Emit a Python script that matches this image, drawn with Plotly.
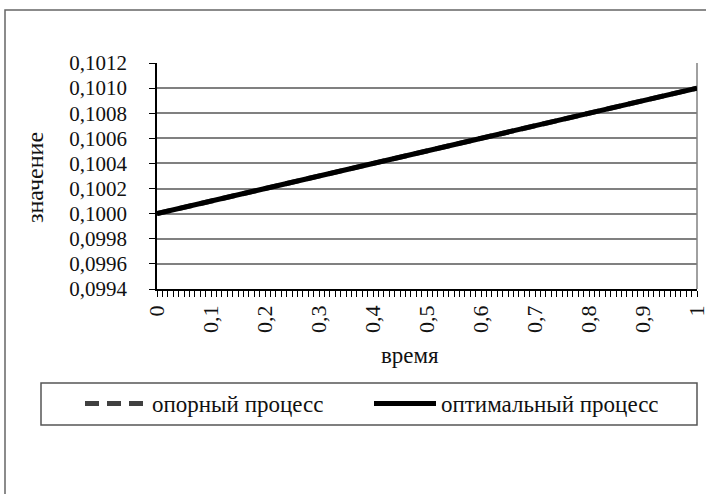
import plotly.graph_objects as go

# Data
time = [0.0, 0.1, 0.2, 0.3, 0.4, 0.5, 0.6, 0.7, 0.8, 0.9, 1.0]
reference_process = [0.1000, 0.1001, 0.1002, 0.1003, 0.1004, 0.1005,
                     0.1006, 0.1007, 0.1008, 0.1009, 0.1010]
optimal_process = [0.1000, 0.1001, 0.1002, 0.1003, 0.1004, 0.1005,
                   0.1006, 0.1007, 0.1008, 0.1009, 0.1010]
x_ticks = [0.0, 0.1, 0.2, 0.3, 0.4, 0.5, 0.6, 0.7, 0.8, 0.9, 1.0]
x_tick_labels = ["0", "0,1", "0,2", "0,3", "0,4", "0,5", "0,6", "0,7", "0,8", "0,9", "1"]
series_names = ["опорный процесс", "оптимальный процесс"]
y_title = "значение"
x_title = "время"

FONT = "'Liberation Serif', 'Times New Roman', 'DejaVu Serif', serif"

fig = go.Figure()
fig.add_trace(go.Scatter(x=time, y=reference_process, mode="lines", name=series_names[0],
                         line=dict(color="#404040", width=5, dash="14px,8px")))
fig.add_trace(go.Scatter(x=time, y=optimal_process, mode="lines", name=series_names[1],
                         line=dict(color="#000000", width=5)))

W, H = 706, 494
L, R, T, B = 157, 9, 63, 205
pw, ph = W - L - R, H - T - B

def px(x):
    return (x - L) / pw

def py(y):
    return (H - B - y) / ph

fig.update_layout(
    template="none",
    width=W, height=H,
    margin=dict(l=L, r=R, t=T, b=B, autoexpand=False),
    paper_bgcolor="white", plot_bgcolor="white",
    separators=", ",
    font=dict(family=FONT, size=21, color="#111111"),
    showlegend=True,
    legend=dict(orientation="h", xref="paper", yref="paper",
                x=px(80), xanchor="left", y=py(382), yanchor="top",
                borderwidth=0, bgcolor="rgba(0,0,0,0)",
                font=dict(family=FONT, size=23, color="#111111"),
                itemwidth=62,
                entrywidth=212, entrywidthmode="pixels",
                traceorder="normal"),
    xaxis=dict(range=[0, 1], tickmode="array", tickvals=x_ticks, ticktext=x_tick_labels,
               tickangle=-90, ticklabeloverflow="allow", automargin=False,
               showgrid=False, zeroline=False,
               showline=True, linecolor="#000000", linewidth=1.5,
               ticks="outside", ticklen=6, tickcolor="#000000", tickwidth=1,
               minor=dict(dtick=0.01, tick0=0, ticks="outside", ticklen=6, tickcolor="#000000", tickwidth=1),
               tickfont=dict(family=FONT, size=22)),
    yaxis=dict(range=[0.0994, 0.1012], dtick=0.0002, tick0=0.0994, tickformat=".4f",
               automargin=False,
               showgrid=True, gridcolor="#808080", gridwidth=1.5,
               zeroline=False,
               showline=True, linecolor="#000000", linewidth=1.5,
               ticks="outside", ticklen=6, tickcolor="#000000", tickwidth=1,
               ticklabelstandoff=18,
               tickfont=dict(family=FONT, size=21)),
)

# plot area right border
fig.add_shape(type="line", xref="paper", yref="paper", x0=1, x1=1, y0=0, y1=1,
              line=dict(color="#808080", width=1.5), layer="below")
# outer chart frame
fig.add_shape(type="rect", xref="paper", yref="paper",
              x0=px(5), x1=px(740), y0=py(10), y1=py(540),
              line=dict(color="#666666", width=1.5), layer="below")
# legend box
fig.add_shape(type="rect", xref="paper", yref="paper",
              x0=px(41), x1=px(697), y0=py(383), y1=py(425),
              line=dict(color="#555555", width=1.5), layer="below")

fig.add_annotation(text=y_title, xref="paper", yref="paper", x=px(35), y=py(178),
                   textangle=-90, showarrow=False, font=dict(family=FONT, size=24),
                   xanchor="center", yanchor="middle")
fig.add_annotation(text=x_title, xref="paper", yref="paper", x=px(410), y=py(355),
                   showarrow=False, font=dict(family=FONT, size=23),
                   xanchor="center", yanchor="middle")

fig.write_html("out.html", config={"displayModeBar": False},
               post_script="document.body.style.margin='0';document.body.style.overflow='hidden';")
